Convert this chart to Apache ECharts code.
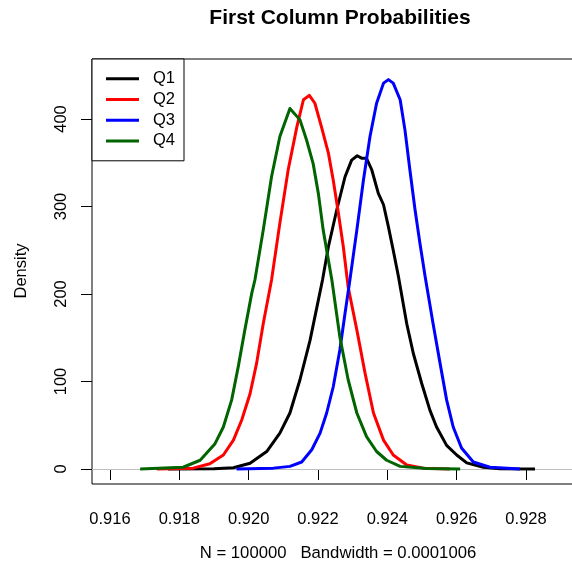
<!DOCTYPE html>
<html>
<head>
<meta charset="utf-8">
<script src="https://cdn.jsdelivr.net/npm/echarts@6/dist/echarts.min.js"></script>
<style>
  html, body { margin: 0; padding: 0; background: #fff; }
  #chart { width: 572px; height: 571px; }
</style>
</head>
<body>
<div id="chart"></div>
<script>
// Kernel density estimates of the first column probability, one curve per quarter.
const seriesNames = ['Q1', 'Q2', 'Q3', 'Q4'];
const seriesColors = ['#000000', '#ff0000', '#0000ff', '#006400'];

const q1x = [0.91767, 0.91900, 0.91956, 0.92004, 0.92052, 0.92090, 0.92119, 0.92148, 0.92177, 0.92201,
             0.92213, 0.92230, 0.92254, 0.92278, 0.92297, 0.92313, 0.92327, 0.92340, 0.92355, 0.92374,
             0.92389, 0.92403, 0.92417, 0.92432, 0.92456, 0.92475, 0.92499, 0.92523, 0.92542, 0.92571,
             0.92600, 0.92629, 0.92677, 0.92725, 0.92826];
const q1y = [0, 0.3, 1.5, 6.5, 20, 41, 64, 102, 147, 193,
             216, 254, 296, 334, 353, 358, 355, 355, 342, 315,
             302, 277, 250, 220, 166, 132, 98, 67, 48, 27,
             16, 7, 2, 0.3, 0];

const q2x = [0.91735, 0.91840, 0.91888, 0.91927, 0.91956, 0.91980, 0.92004, 0.92023, 0.92042, 0.92066,
             0.92090, 0.92114, 0.92139, 0.92158, 0.92175, 0.92191, 0.92210, 0.92230, 0.92244, 0.92259,
             0.92273, 0.92287, 0.92312, 0.92336, 0.92360, 0.92389, 0.92417, 0.92456, 0.92504, 0.92580];
const q2y = [0, 1, 6, 16, 33, 56, 86, 121, 166, 216,
             281, 342, 391, 422, 427, 418, 391, 361, 330, 292,
             254, 208, 159, 109, 64, 33, 16, 4.6, 1, 0];

const q3x = [0.91965, 0.92071, 0.92119, 0.92153, 0.92182, 0.92206, 0.92225, 0.92244, 0.92263, 0.92278,
             0.92292, 0.92312, 0.92331, 0.92350, 0.92369, 0.92389, 0.92403, 0.92417, 0.92437, 0.92451,
             0.92465, 0.92480, 0.92494, 0.92509, 0.92532, 0.92552, 0.92571, 0.92590, 0.92614, 0.92648,
             0.92696, 0.92783];
const q3y = [0, 1, 3, 8, 22, 41, 64, 94, 136, 178,
             216, 273, 330, 380, 418, 441, 445, 441, 422, 387,
             342, 296, 258, 220, 166, 121, 79, 48, 24, 8,
             2, 0];

const q4x = [0.91687, 0.91811, 0.91860, 0.91903, 0.91927, 0.91951, 0.91970, 0.91989, 0.92009, 0.92018,
             0.92042, 0.92066, 0.92090, 0.92119, 0.92148, 0.92167, 0.92186, 0.92201, 0.92215, 0.92240,
             0.92263, 0.92287, 0.92312, 0.92340, 0.92369, 0.92398, 0.92437, 0.92514, 0.92610];
const q4y = [0, 2, 10, 29, 48, 79, 117, 159, 201, 216,
             273, 334, 380, 412, 399, 376, 349, 315, 273, 216,
             151, 102, 64, 37, 20, 10, 3, 0.5, 0];

const xTicks = [0.916, 0.918, 0.920, 0.922, 0.924, 0.926, 0.928];
const yTicks = [0, 100, 200, 300, 400];

const titleText = 'First Column Probabilities';
const xAxisTitle = 'N = 100000   Bandwidth = 0.0001006';
const yAxisTitle = 'Density';

const FONT = '"Liberation Sans", Arial, Helvetica, sans-serif';

const xs = [q1x, q2x, q3x, q4x];
const ys = [q1y, q2y, q3y, q4y];
const zip = (a, b) => a.map((v, i) => [v, b[i]]);

const series = seriesNames.map((name, i) => {
  const s = {
    name: name,
    type: 'line',
    data: zip(xs[i], ys[i]),
    color: seriesColors[i],
    showSymbol: false,
    symbol: 'none',
    smooth: false,
    silent: true,
    lineStyle: { width: 3, color: seriesColors[i], cap: 'butt', join: 'round' },
    z: 3 + i
  };
  if (i === 0) {
    s.markLine = {
      silent: true,
      symbol: 'none',
      label: { show: false },
      lineStyle: { color: '#bebebe', type: 'solid', width: 1 },
      data: [{ yAxis: 0 }],
      z: 2
    };
  }
  return s;
});

const chart = echarts.init(document.getElementById('chart'), null, { renderer: 'canvas' });
chart.setOption({
  animation: false,
  backgroundColor: '#ffffff',
  // plot box runs past the right edge of the canvas
  grid: {
    left: 92, top: 59, width: 490, height: 425,
    outerBoundsMode: 'none',
    containLabel: false,
    show: true, borderColor: '#000', borderWidth: 1, backgroundColor: 'transparent'
  },
  xAxis: {
    type: 'value',
    min: 0.915481,
    max: 0.929615,
    axisLine: { show: false },
    splitLine: { show: false },
    axisTick: { show: true, inside: false, length: 11, lineStyle: { color: '#000', width: 1 }, customValues: xTicks },
    axisLabel: {
      show: true, margin: 27, color: '#000', fontSize: 16.5, fontFamily: FONT,
      customValues: xTicks,
      formatter: v => v.toFixed(3)
    }
  },
  yAxis: {
    type: 'value',
    min: -17.14,
    max: 468.57,
    axisLine: { show: false },
    splitLine: { show: false },
    axisTick: { show: true, inside: false, length: 11, lineStyle: { color: '#000', width: 1 }, customValues: yTicks },
    axisLabel: {
      show: true, margin: 22, rotate: 90, color: '#000', fontSize: 16.5, fontFamily: FONT,
      customValues: yTicks,
      formatter: v => String(Math.round(v))
    }
  },
  legend: {
    show: true,
    orient: 'vertical',
    left: 92,
    top: 59,
    data: seriesNames,
    icon: 'rect',
    itemWidth: 33,
    itemHeight: 3,
    itemGap: 0,
    padding: [9.5, 9, 9.5, 14],
    borderColor: '#000',
    borderWidth: 1,
    backgroundColor: '#fff',
    selectedMode: false,
    textStyle: { color: '#000', fontSize: 16.5, fontFamily: FONT, lineHeight: 20.7, padding: [0, 0, 0, 9] },
    z: 10
  },
  graphic: [
    {
      type: 'text', x: 340, y: 18,
      style: { text: titleText, font: 'bold 21px ' + FONT, fill: '#000', textAlign: 'center', textVerticalAlign: 'middle' }
    },
    {
      type: 'text', x: 338, y: 553,
      style: { text: xAxisTitle, font: '16.7px ' + FONT, fill: '#000', textAlign: 'center', textVerticalAlign: 'middle' }
    },
    {
      type: 'text', x: 21, y: 271, rotation: Math.PI / 2,
      style: { text: yAxisTitle, font: '16.5px ' + FONT, fill: '#000', textAlign: 'center', textVerticalAlign: 'middle' }
    }
  ],
  series: series
});
</script>
</body>
</html>
